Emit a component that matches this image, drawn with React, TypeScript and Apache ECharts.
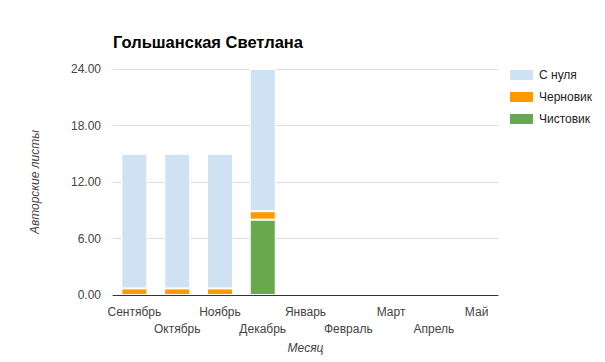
import React, { useEffect, useRef } from "react";
import * as echarts from "echarts";

const months = ["Сентябрь", "Октябрь", "Ноябрь", "Декабрь", "Январь", "Февраль", "Март", "Апрель", "Май"];
const chistovik = [0, 0, 0, 8, 0, 0, 0, 0, 0];
const chernovik = [0.7, 0.7, 0.7, 0.9, 0, 0, 0, 0, 0];
const sNulya = [14.3, 14.3, 14.3, 15.1, 0, 0, 0, 0, 0];
const legendOrder = ["С нуля", "Черновик", "Чистовик"];

const FONT = "'Liberation Sans', Arial, sans-serif";

export default function App() {
  const ref = useRef<HTMLDivElement>(null);
  useEffect(() => {
    document.body.style.margin = "0";
    const chart = echarts.init(ref.current!, null, { renderer: "svg" });
    const toData = (arr: number[]) => arr.map((v) => (v === 0 ? null : v));
    const barStyle = (color: string) => ({ color, borderColor: "#ffffff", borderWidth: 1 });
    chart.setOption({
      animation: false,
      textStyle: { fontFamily: FONT },
      title: {
        text: "Гольшанская Светлана",
        left: 108,
        top: 28,
        textStyle: { fontFamily: FONT, fontSize: 16.5, fontWeight: "bold", color: "#000" },
      },
      legend: {
        data: legendOrder,
        orient: "vertical",
        left: 503,
        top: 63,
        itemWidth: 25,
        itemHeight: 12,
        itemGap: 8,
        icon: "rect",
        textStyle: { fontFamily: FONT, fontSize: 12, color: "#222" },
      },
      grid: { left: 113, right: 107, top: 69, bottom: 67, containLabel: false },
      xAxis: {
        type: "category",
        data: months,
        z: 10,
        name: "Месяц",
        nameLocation: "middle",
        nameGap: 47,
        nameTextStyle: { fontFamily: FONT, fontSize: 12, fontStyle: "italic", color: "#444" },
        axisLine: { lineStyle: { color: "#333", width: 1 } },
        axisTick: { show: false },
        axisLabel: {
          interval: 0,
          margin: 8,
          fontFamily: FONT,
          fontSize: 12,
          color: "#444",
          lineHeight: 17,
          formatter: (v: string, i: number) => (i % 2 === 1 ? "\n" + v : v),
        },
      },
      yAxis: {
        type: "value",
        min: 0,
        max: 24,
        interval: 6,
        name: "Авторские листы",
        nameLocation: "middle",
        nameGap: 72,
        nameTextStyle: { fontFamily: FONT, fontSize: 12, fontStyle: "italic", color: "#444" },
        axisLine: { show: false },
        axisTick: { show: false },
        axisLabel: {
          margin: 12,
          fontFamily: FONT,
          fontSize: 12,
          color: "#444",
          formatter: (v: number) => v.toFixed(2),
        },
        splitLine: { lineStyle: { color: "#dddddd", width: 1 } },
      },
      series: [
        { name: "Чистовик", type: "bar", stack: "a", barWidth: 26, data: toData(chistovik), itemStyle: barStyle("#6aa84f") },
        { name: "Черновик", type: "bar", stack: "a", barWidth: 26, data: toData(chernovik), itemStyle: barStyle("#ff9900") },
        { name: "С нуля", type: "bar", stack: "a", barWidth: 26, data: toData(sNulya), itemStyle: barStyle("#cfe2f3") },
      ],
    });
    return () => chart.dispose();
  }, []);
  return <div ref={ref} style={{ width: 605, height: 362 }} />;
}
